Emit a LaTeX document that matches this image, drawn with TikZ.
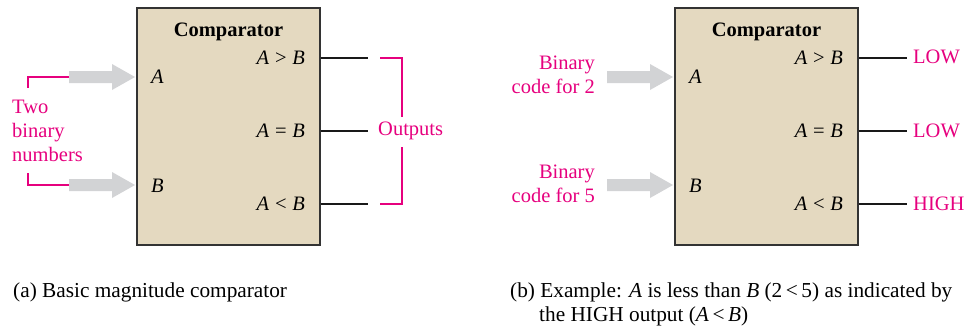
\documentclass[tikz,border=0pt]{standalone}
\usepackage{fontspec}
\setmainfont{Liberation Serif}
\definecolor{pinkc}{HTML}{E6007E}
\definecolor{boxfill}{HTML}{E4D9C0}
\definecolor{arrgray}{HTML}{D2D3D5}
\begin{document}
\begin{tikzpicture}[x=1pt,y=-1pt,
  comp/.style={draw=black!80, line width=1.2pt, fill=boxfill, minimum width=183pt, minimum height=237pt, inner sep=0pt},
  lbl/.style={font=\fontsize{20.5}{24}\selectfont, inner sep=0pt},
  captxt/.style={font=\fontsize{21.3}{24}\selectfont, inner sep=0pt},
  plbl/.style={lbl, text=pinkc},
  outwire/.style={line width=2.8pt, black!90},
  brk/.style={pinkc, line width=1.3pt},
  pics/barrow/.style={code={\fill[arrgray] (-66,-6) -- (-23,-6) -- (-23,-13) -- (0,0) -- (-23,13) -- (-23,6) -- (-66,6) -- cycle;}}]
\useasboundingbox (0,0) rectangle (973,330);

% ---------- (a) ----------
\node[comp] (boxL) at (228.5,126.5) {};
\node[lbl, anchor=base, font=\fontsize{20.5}{24}\selectfont\bfseries] (titL) at (228.5,36.5) {Comparator};
\node[lbl, anchor=base east] (gtL) at (305,64.5) {\textit{A}\;>\;\textit{B}};
\node[lbl, anchor=base east] (eqL) at (305,137.5) {\textit{A}\;=\;\textit{B}};
\node[lbl, anchor=base east] (ltL) at (305,210.5) {\textit{A}\;<\;\textit{B}};
\node[lbl, anchor=base west] (inAL) at (151,83.5) {\textit{A}};
\node[lbl, anchor=base west] (inBL) at (151,192.5) {\textit{B}};

\coordinate (oGL) at (368,58);
\coordinate (oEL) at (368,131);
\coordinate (oLL) at (368,204);
\draw[outwire] (boxL.east |- oGL) -- (oGL);
\draw[outwire] (boxL.east |- oEL) -- (oEL);
\draw[outwire] (boxL.east |- oLL) -- (oLL);

\pic at (135,77) {barrow};
\pic at (135,185) {barrow};

\node[plbl, anchor=west, align=left] (twoL) at (12,131) {Two\\binary\\numbers};
\coordinate (bA1) at (69,77);
\coordinate (bA2) at (28,77);
\coordinate (bA3) at (28,88);
\coordinate (bB1) at (69,185);
\coordinate (bB2) at (28,185);
\coordinate (bB3) at (28,173);
\draw[brk] (bA1) -- (bA2) -- (bA3);
\draw[brk] (bB1) -- (bB2) -- (bB3);

\node[plbl, anchor=west] (outL) at (378,131) {Outputs};
\coordinate (r1) at (380,58);
\coordinate (r2) at (402,58);
\coordinate (r3) at (402,117);
\coordinate (r4) at (402,147);
\coordinate (r5) at (402,204);
\coordinate (r6) at (380,204);
\draw[brk] (r1) -- (r2) -- (r3);
\draw[brk] (r4) -- (r5) -- (r6);

\node[captxt, anchor=base west] (capA) at (13,297) {(a) Basic magnitude comparator};

% ---------- (b) ----------
\node[comp] (boxR) at (766.5,126.5) {};
\node[lbl, anchor=base, font=\fontsize{20.5}{24}\selectfont\bfseries] (titR) at (766.5,36.5) {Comparator};
\node[lbl, anchor=base east] (gtR) at (843,64.5) {\textit{A}\;>\;\textit{B}};
\node[lbl, anchor=base east] (eqR) at (843,137.5) {\textit{A}\;=\;\textit{B}};
\node[lbl, anchor=base east] (ltR) at (843,210.5) {\textit{A}\;<\;\textit{B}};
\node[lbl, anchor=base west] (inAR) at (689,83.5) {\textit{A}};
\node[lbl, anchor=base west] (inBR) at (689,192.5) {\textit{B}};

\coordinate (oGR) at (907,58);
\coordinate (oER) at (907,131);
\coordinate (oLR) at (907,204);
\draw[outwire] (boxR.east |- oGR) -- (oGR);
\draw[outwire] (boxR.east |- oER) -- (oER);
\draw[outwire] (boxR.east |- oLR) -- (oLR);

\node[plbl, anchor=base west] (lowG) at (913,63.5) {LOW};
\node[plbl, anchor=base west] (lowE) at (913,137) {LOW};
\node[plbl, anchor=base west] (highL) at (913,210.5) {HIGH};

\pic at (673,77) {barrow};
\pic at (673,185) {barrow};

\node[plbl, anchor=east, align=right] (code2) at (595,75) {Binary\\code for 2};
\node[plbl, anchor=east, align=right] (code5) at (595,184) {Binary\\code for 5};

\node[captxt, anchor=base west] (capB1) at (510,297) {(b) Example: \textit{A} is less than \textit{B} (2\,<\,5) as indicated by};
\node[captxt, anchor=base west] (capB2) at (539,321) {the HIGH output (\textit{A}\,<\,\textit{B})};
\end{tikzpicture}
\end{document}
